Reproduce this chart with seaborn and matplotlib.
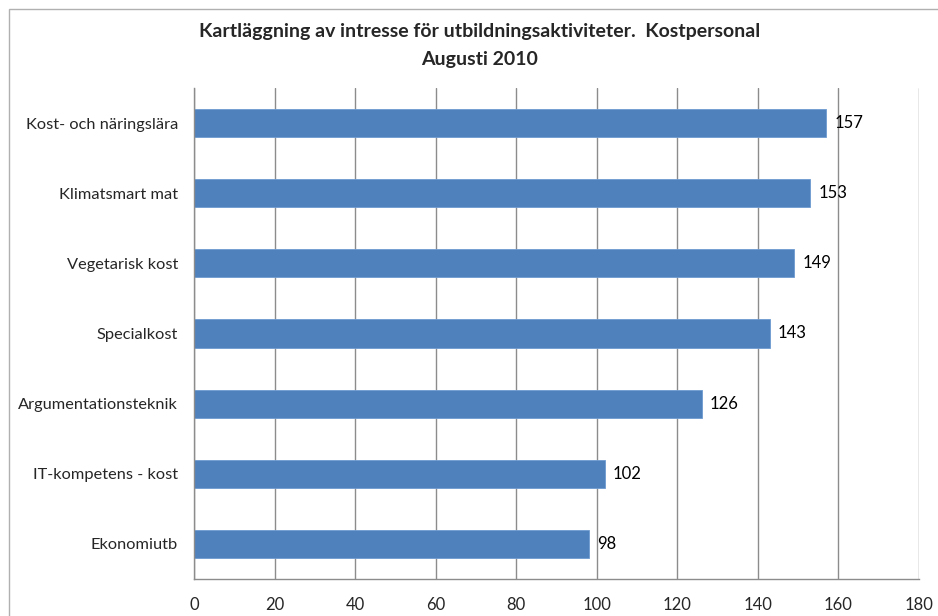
import matplotlib
matplotlib.use("Agg")
import matplotlib.pyplot as plt
import seaborn as sns
import pandas as pd
from matplotlib.patches import Rectangle

categories = ["Kost- och näringslära", "Klimatsmart mat", "Vegetarisk kost",
              "Specialkost", "Argumentationsteknik", "IT-kompetens - kost", "Ekonomiutb"]
values = [157, 153, 149, 143, 126, 102, 98]
x_ticks = [0, 20, 40, 60, 80, 100, 120, 140, 160, 180]

sns.set_theme(style="white")
plt.rcParams["font.family"] = ["Lato", "DejaVu Sans"]

df = pd.DataFrame({"Aktivitet": categories, "Antal": values})

W, H = 938, 616
fig = plt.figure(figsize=(W / 100, H / 100), dpi=100)
ax = fig.add_axes([194 / W, 1 - 579 / H, (919 - 194) / W, (579 - 88) / H])

sns.barplot(data=df, y="Aktivitet", x="Antal", orient="h", color="#4F81BD",
            saturation=1, width=0.4, edgecolor="#6F9AD0", linewidth=0.6, ax=ax)

ax.set_xlim(0, 180)
ax.set_ylim(len(categories) - 0.5, -0.5)
ax.set_xticks(x_ticks)
ax.set_xticklabels([str(t) for t in x_ticks], fontsize=12)
ax.set_xlabel("")
ax.set_ylabel("")
ax.tick_params(axis="y", length=0, labelsize=11.8, pad=11.5)
ax.tick_params(axis="x", length=5, width=1, color="#888888", direction="out", pad=8)

# minor ticks at category boundaries on the y-axis
ax.set_yticks([i - 0.5 for i in range(len(categories) + 1)], minor=True)
ax.tick_params(axis="y", which="minor", length=5, width=1, color="#888888", direction="out")

ax.grid(axis="x", color="#8C8C8C", linewidth=1)
ax.set_axisbelow(True)
for s in ["top", "right"]:
    ax.spines[s].set_visible(False)
for s in ["left", "bottom"]:
    ax.spines[s].set_color("#8C8C8C")
    ax.spines[s].set_linewidth(1)

for i, v in enumerate(values):
    ax.text(v + 2, i, str(v), va="center", ha="left", fontsize=12, color="black")

fig.text(480 / W, 1 - 32 / H, "Kartläggning av intresse för utbildningsaktiviteter.  Kostpersonal",
         ha="center", va="center", fontsize=14, fontweight="bold")
fig.text(480 / W, 1 - 59 / H, "Augusti 2010",
         ha="center", va="center", fontsize=14, fontweight="bold")

# chart area border
fig.patches.append(Rectangle((9 / W, -0.1), 1.2, 1 - 9 / H + 0.1, transform=fig.transFigure,
                             fill=False, edgecolor="#B0B0B0", linewidth=1))

fig.savefig("out.png", dpi=100)
